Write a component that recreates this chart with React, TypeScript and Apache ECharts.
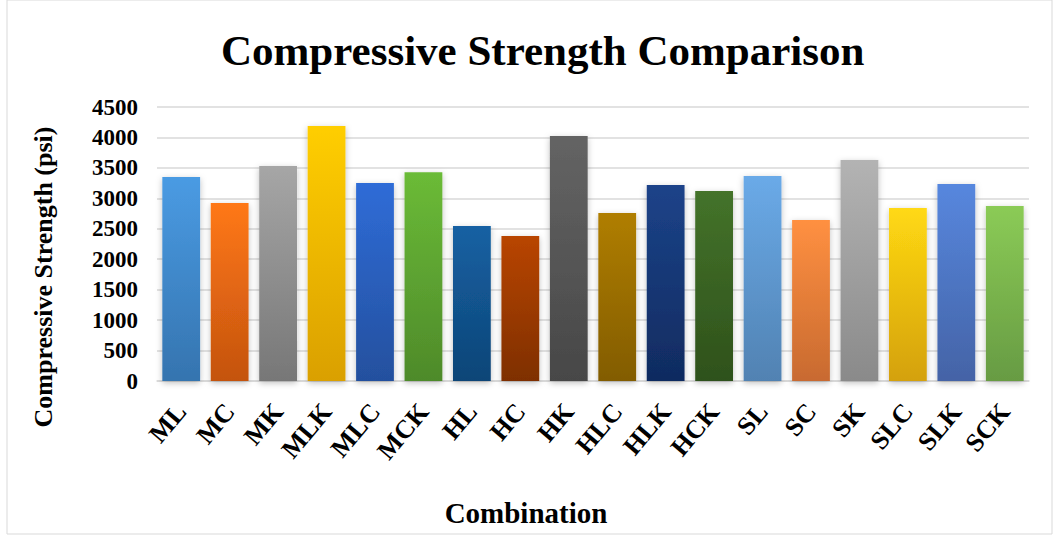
import React, { useEffect, useRef } from "react";
import * as echarts from "echarts";

const categories = ["ML", "MC", "MK", "MLK", "MLC", "MCK", "HL", "HC", "HK", "HLC", "HLK", "HCK", "SL", "SC", "SK", "SLC", "SLK", "SCK"];
const strengths = [3350, 2925, 3530, 4190, 3250, 3430, 2545, 2380, 4025, 2760, 3220, 3120, 3365, 2645, 3630, 2840, 3235, 2875];
const topColors = ["#4A9BE3", "#FF7816", "#A6A6A6", "#FFCE00", "#2F6CD7", "#6BBB37", "#1561A3", "#B94500", "#646464", "#B07E00", "#1C4389", "#44732A", "#6AAAE8", "#FF9041", "#B3B3B3", "#FFD913", "#5787DE", "#8BCB56"];
const bottomColors = ["#3574AF", "#C4530F", "#777777", "#DAA000", "#24509E", "#4E8A2A", "#0E4577", "#7E2F00", "#474747", "#825C00", "#102B60", "#2E511B", "#5182B2", "#C86A30", "#8A8A8A", "#D4A10B", "#4463A6", "#679B43"];
const yTicks = { min: 0, max: 4500, interval: 500 };

const serif = "'Liberation Serif', 'Times New Roman', serif";

export default function App() {
  const ref = useRef<HTMLDivElement>(null);

  useEffect(() => {
    document.body.style.margin = "0";
    const chart = echarts.init(ref.current!, undefined, { renderer: "svg" });
    chart.setOption({
      animation: false,
      backgroundColor: "#ffffff",
      title: {
        text: "Compressive Strength Comparison",
        left: 216,
        top: 24,
        textStyle: { fontFamily: serif, fontWeight: "bold", fontSize: 43, color: "#000" },
      },
      graphic: [
        {
          type: "rect",
          shape: { x: 7, y: 0, width: 1045, height: 534 },
          style: { fill: "none", stroke: "#D9D9D9", lineWidth: 1 },
          silent: true,
        },
        {
          type: "text",
          x: 526,
          y: 513,
          style: {
            text: "Combination",
            fontFamily: serif,
            fontWeight: "bold",
            fontSize: 29,
            fill: "#000",
            align: "center",
            verticalAlign: "middle",
          },
          silent: true,
        },
        {
          type: "text",
          x: 43,
          y: 277,
          rotation: Math.PI / 2,
          style: {
            text: "Compressive Strength (psi)",
            fontFamily: serif,
            fontWeight: "bold",
            fontSize: 26,
            fill: "#000",
            align: "center",
            verticalAlign: "middle",
          },
          silent: true,
        },
      ],
      grid: { left: 157, right: 26, top: 107, bottom: 154 },
      xAxis: {
        type: "category",
        data: categories,
        axisLine: { show: true, lineStyle: { color: "#D9D9D9", width: 1.5 } },
        axisTick: { show: false },
        axisLabel: {
          rotate: 50,
          margin: 26,
          interval: 0,
          fontFamily: serif,
          fontWeight: "bold",
          fontSize: 26,
          color: "#000",
        },
      },
      yAxis: {
        type: "value",
        min: yTicks.min,
        max: yTicks.max,
        interval: yTicks.interval,
        axisLine: { show: false },
        axisTick: { show: false },
        splitLine: { lineStyle: { color: "#D9D9D9", width: 1.5 } },
        axisLabel: {
          margin: 19,
          formatter: (v: number) => String(v),
          fontFamily: serif,
          fontWeight: "bold",
          fontSize: 23,
          color: "#000",
        },
      },
      series: [
        {
          type: "bar",
          barCategoryGap: "22%",
          data: strengths.map((v, i) => ({
            value: v,
            itemStyle: {
              color: new echarts.graphic.LinearGradient(0, 0, 0, 1, [
                { offset: 0, color: topColors[i] },
                { offset: 1, color: bottomColors[i] },
              ]),
              shadowColor: "rgba(0,0,0,0.25)",
              shadowBlur: 6,
              shadowOffsetY: 2,
            },
          })),
        },
      ],
    });
    return () => chart.dispose();
  }, []);

  return <div ref={ref} style={{ width: 1055, height: 535 }} />;
}
